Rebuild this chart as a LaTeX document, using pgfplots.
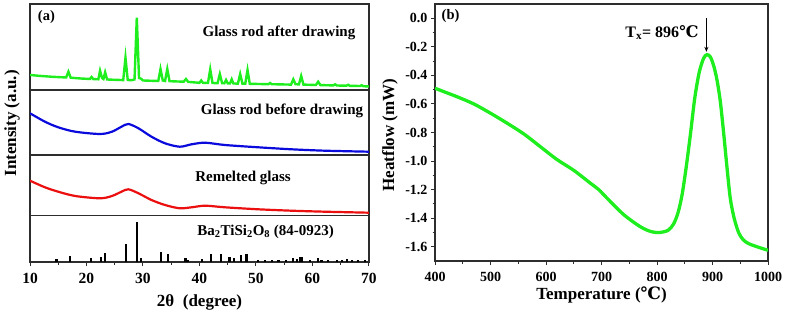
\documentclass[border=0pt]{standalone}
\usepackage{fontspec}
\setmainfont{Liberation Serif}
\newfontfamily\djv{DejaVu Serif}
\usepackage{pgfplots}
\pgfplotsset{compat=1.18}
\usetikzlibrary{arrows.meta}
\definecolor{xgreen}{RGB}{30,238,30}
\definecolor{xblue}{RGB}{10,10,220}
\definecolor{xred}{RGB}{235,15,15}
\definecolor{frame}{RGB}{45,45,45}
\pgfplotsset{
  mystyle/.style={
    scale only axis,
    axis line style={line width=1.1pt, frame},
    tick style={line width=1pt, frame},
    tick align=outside,
    major tick length=4pt,
    minor tick length=2.5pt,
    xtick pos=bottom, ytick pos=left,
    /pgf/number format/assume math mode=true,
    xticklabel={\pgfmathprintnumber{\tick}},
    yticklabel={\pgfmathprintnumber{\tick}},
    label style={font=\bfseries\fontsize{17}{17}\selectfont},
  }
}
\begin{document}
\begin{tikzpicture}[x=1pt,y=1pt]
\useasboundingbox (0,0) rectangle (787,311);
% ---------------- panel (a)
\begin{axis}[mystyle,
  at={(30pt,49pt)}, anchor=south west,
  width=339pt, height=258pt,
  xmin=10, xmax=70, ymin=0, ymax=258,
  xtick={10,20,...,70}, minor x tick num=1,
  ytick=\empty,
  tick label style={font=\bfseries\fontsize{15.5}{15.5}\selectfont},
  xticklabel style={yshift=-4pt},
  xlabel={2θ \ (degree)},
  ylabel={Intensity (a.u.)},
  xlabel style={at={(axis description cs:0.5,-0.155)}, anchor=center},
  ylabel style={at={(axis description cs:-0.053,0.537)}, anchor=center, rotate=0},
]
% green: glass rod after drawing
\addplot[xgreen, line width=2.4pt] coordinates {
(10,187) (12,186) (14,185.2) (16.4,184.5) (16.8,190.3) (17.2,184.3) (19,183.5)
(20.6,183) (20.9,185) (21.2,182.9) (22.1,182.7) (22.4,191.3) (22.75,184) (23.0,183)
(23.3,189.7) (23.65,182.5) (25,182.2) (26.5,181.9) (26.9,204.3) (27.3,182) (28.0,181.8)
(28.5,182.5) (28.9,244.3) (29.3,184) (29.6,183.5) (30.0,181.5) (32.7,181) (33.1,193)
(33.5,181.5) (33.9,181) (34.3,193) (34.7,180.8) (37.2,180.3) (37.6,183) (38.0,180.1)
(40.0,179.2) (40.3,181.5) (40.6,179.2) (41.5,179) (41.9,192.7) (42.3,179) (43.2,178.8)
(43.6,188) (44.0,178.8) (44.4,178.7) (44.7,182) (45.0,178.6) (45.4,178.6) (45.7,182.7)
(46.0,178.5) (46.8,178.4) (47.2,188) (47.6,178.4) (48.1,178.3) (48.5,192) (48.9,178.2)
(52.2,177.8) (52.5,179) (52.8,177.8) (56.2,177.4) (56.6,182.7) (57.0,177.8) (57.6,177.6)
(58.0,186) (58.4,177.4) (60.6,177.0) (61.0,180.3) (61.4,176.9) (63.7,176.6) (64.0,177.7)
(64.3,176.5) (66.0,176.3) (66.3,177.2) (66.6,176.2) (68.4,176) (68.7,176.8) (69,175.8)
(70,175.5)};
% blue: glass rod before drawing
\addplot[xblue, line width=2.2pt, smooth] coordinates {
(10,148.7) (12.65,140.3) (15,134.7) (18,130.3) (22.4,128) (24.5,130.3) (26.2,135.3)
(27.4,138) (29.2,133.7) (31.5,125.3) (33.9,118.7) (36.5,115.3) (38.6,117.7) (41,119.3)
(44.5,117) (50.4,114.7) (56.3,112.7) (62.2,111.3) (70,110.3)};
% red: remelted glass
\addplot[xred, line width=2.2pt, smooth] coordinates {
(10,81.3) (12.65,74.7) (15,70.3) (18,66) (22.4,63.7) (24.5,66) (26.2,70.3)
(27.4,72.7) (29.2,68.7) (31.5,62) (33.9,57) (36.5,53.7) (38.6,54.7) (41,56.3)
(44.5,54.7) (50.4,52.7) (56.3,51.3) (62.2,50.3) (70,49.3)};
% reference pattern
\addplot[ycomb, black, line width=2.3pt] coordinates {
(14.7,3) (17.1,6.3) (20.8,3.7) (22.6,5.3) (23.3,8.6) (27.0,17.6) (29.0,40.3) (29.6,4.3)
(33.2,10.3) (34.4,7.7) (37.5,3.7) (37.9,2.3) (40.4,3) (42.0,8.3) (43.8,7.8) (45.3,5.3)
(46.1,3.8) (47.3,7.3) (48.3,8.3) (50.4,1.8) (51.6,1.8) (52.8,2.3) (54.0,1.8) (55.3,2.3)
(56.6,3.8) (57.2,3.3) (57.8,5.3) (58.2,5.3) (59.6,2.3) (61.0,3.8) (61.6,2.3) (62.8,1.8)
(64.3,1.8) (65.2,2.3) (66.1,2.8) (67.0,1.8) (68.1,1.8) (69.3,1.8)};
% dividers
\addplot[frame, line width=1.1pt] coordinates {(10,172) (70,172)};
\addplot[frame, line width=1.1pt] coordinates {(10,107) (70,107)};
\addplot[frame, line width=1.1pt] coordinates {(10,46.5) (70,46.5)};
\node[font=\bfseries\fontsize{14.5}{14.5}\selectfont] at (axis cs:12.9,245) {(a)};
\node[anchor=east, font=\bfseries\fontsize{15}{15}\selectfont] at (axis cs:68.2,229) {Glass rod after drawing};
\node[anchor=east, font=\bfseries\fontsize{15}{15}\selectfont] at (axis cs:69.6,151) {Glass rod before drawing};
\node[font=\bfseries\fontsize{15}{15}\selectfont] at (axis cs:47.7,84) {Remelted glass};
\node[anchor=west, font=\bfseries\fontsize{15}{15}\selectfont] at (axis cs:39.0,30) {Ba\textsubscript{2}TiSi\textsubscript{2}O\textsubscript{8} (84-0923)};
\end{axis}
% ---------------- panel (b)
\begin{axis}[mystyle,
  at={(435pt,50pt)}, anchor=south west,
  width=333pt, height=257pt,
  xmin=400, xmax=1000, ymin=-1.7, ymax=0.1,
  xtick={400,500,...,1000}, minor x tick num=1,
  ytick={-1.6,-1.4,-1.2,-1.0,-0.8,-0.6,-0.4,-0.2,0.0}, minor y tick num=1,
  tick label style={font=\bfseries\fontsize{14}{14}\selectfont},
  yticklabel style={/pgf/number format/.cd, fixed, fixed zerofill, precision=1},
  xticklabel style={yshift=-4pt, /pgf/number format/.cd, fixed, precision=0, set thousands separator={}},
  xlabel={Temperature ({\djv ℃})},
  ylabel={Heatflow (mW)},
  xlabel style={at={(axis description cs:0.5,-0.132)}, anchor=center},
  ylabel style={at={(axis description cs:-0.135,0.49)}, anchor=center},
]
\addplot[xgreen, line width=3.3pt, smooth] coordinates {
(400,-0.49) (420,-0.52) (440,-0.55) (470,-0.60) (500,-0.665) (530,-0.735) (560,-0.81)
(590,-0.90) (620,-0.99) (650,-1.065) (680,-1.155) (695,-1.20) (710,-1.26) (740,-1.375)
(770,-1.46) (790,-1.495) (805,-1.50) (820,-1.485) (830,-1.44) (838,-1.36) (845,-1.24)
(852,-1.06) (860,-0.82) (868,-0.56) (876,-0.38) (884,-0.28) (890,-0.255) (896,-0.27)
(902,-0.33) (908,-0.43) (914,-0.58) (920,-0.80) (926,-1.04) (932,-1.26) (939,-1.40)
(947,-1.50) (955,-1.55) (965,-1.578) (980,-1.60) (1000,-1.625)};
\node[font=\bfseries\fontsize{14.5}{14.5}\selectfont] at (axis cs:428,0.016) {(b)};
\node[anchor=east, font=\bfseries\fontsize{16}{16}\selectfont] at (axis cs:881,-0.10) {T\textsubscript{x}= 896{\djv ℃}};
\draw[-{Stealth[length=5pt,width=4pt]}, line width=0.9pt, black] (axis cs:889,0.0) -- (axis cs:889,-0.235);
\end{axis}
\end{tikzpicture}
\end{document}
